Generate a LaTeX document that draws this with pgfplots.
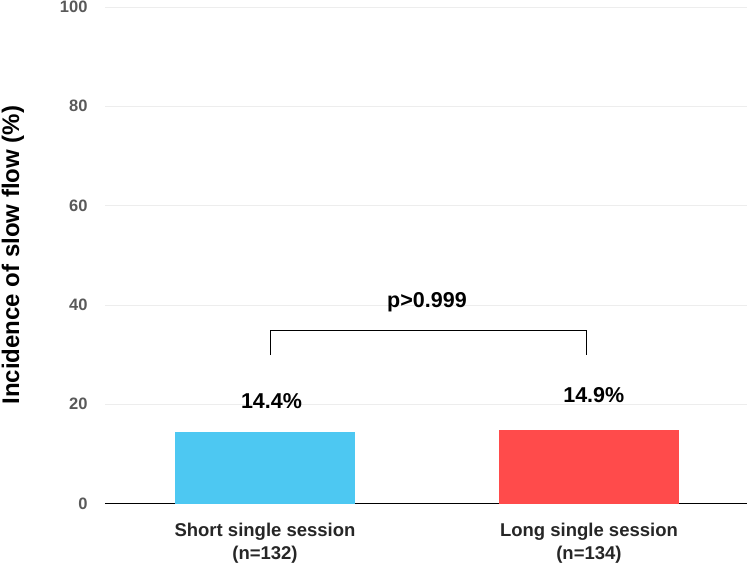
\documentclass[border=0pt]{standalone}
\usepackage{pgfplots}
\pgfplotsset{compat=1.18}
\usepackage{fontspec}
\setmainfont{Liberation Sans}
\definecolor{barcyan}{HTML}{4DC8F2}
\definecolor{barred}{HTML}{FF4B4B}
\definecolor{tickgray}{HTML}{595959}
\definecolor{gridgray}{HTML}{EDEDED}
\definecolor{labdark}{HTML}{262626}
\begin{document}
\begin{tikzpicture}[x=1pt,y=1pt]
\path[use as bounding box] (-105,-61.5) rectangle (646,503.5);
\begin{axis}[
  at={(0,0)}, anchor=south west,
  scale only axis, width=642pt, height=496.5pt,
  xmin=-0.494, xmax=1.488,
  ymin=0, ymax=100,
  ytick={0,20,40,60,80,100},
  xtick={0,1},
  xticklabels={{Short single session\\(n=132)},{Long single session\\(n=134)}},
  xticklabel style={align=center, font=\fontsize{18.5}{23}\selectfont\bfseries, text=labdark, yshift=-16pt},
  yticklabel style={font=\fontsize{16.5}{19}\selectfont\bfseries, text=tickgray, xshift=-14pt},
  /pgf/number format/assume math mode=true,
  axis x line*=bottom, axis y line*=left,
  y axis line style={draw=none},
  x axis line style={line width=1.5pt, black},
  tick style={draw=none},
  ymajorgrids, grid style={gridgray, line width=0.8pt},
  ylabel={Incidence of slow flow (\%)},
  ylabel style={font=\fontsize{24}{28}\selectfont\bfseries, at={(axis description cs:0,0.5)}, anchor=center, yshift=92pt},
  clip=false,
]
\addplot[ybar, bar width=180pt, fill=barcyan, draw=none] coordinates {(0,14.4)};
\addplot[ybar, bar width=180pt, fill=barred, draw=none] coordinates {(1,14.9)};
\node[font=\fontsize{21.5}{24}\selectfont\bfseries] at (axis cs:0.02,20.7) {14.4\%};
\node[font=\fontsize{21.5}{24}\selectfont\bfseries] at (axis cs:1.015,21.9) {14.9\%};
\draw[line width=1.2pt, black] (axis cs:0.018,29.9) -- (axis cs:0.018,34.9) -- (axis cs:0.993,34.9) -- (axis cs:0.993,29.9);
\node[font=\fontsize{21.5}{24}\selectfont\bfseries] at (axis cs:0.5,40.6) {p>0.999};
\end{axis}
\end{tikzpicture}
\end{document}
